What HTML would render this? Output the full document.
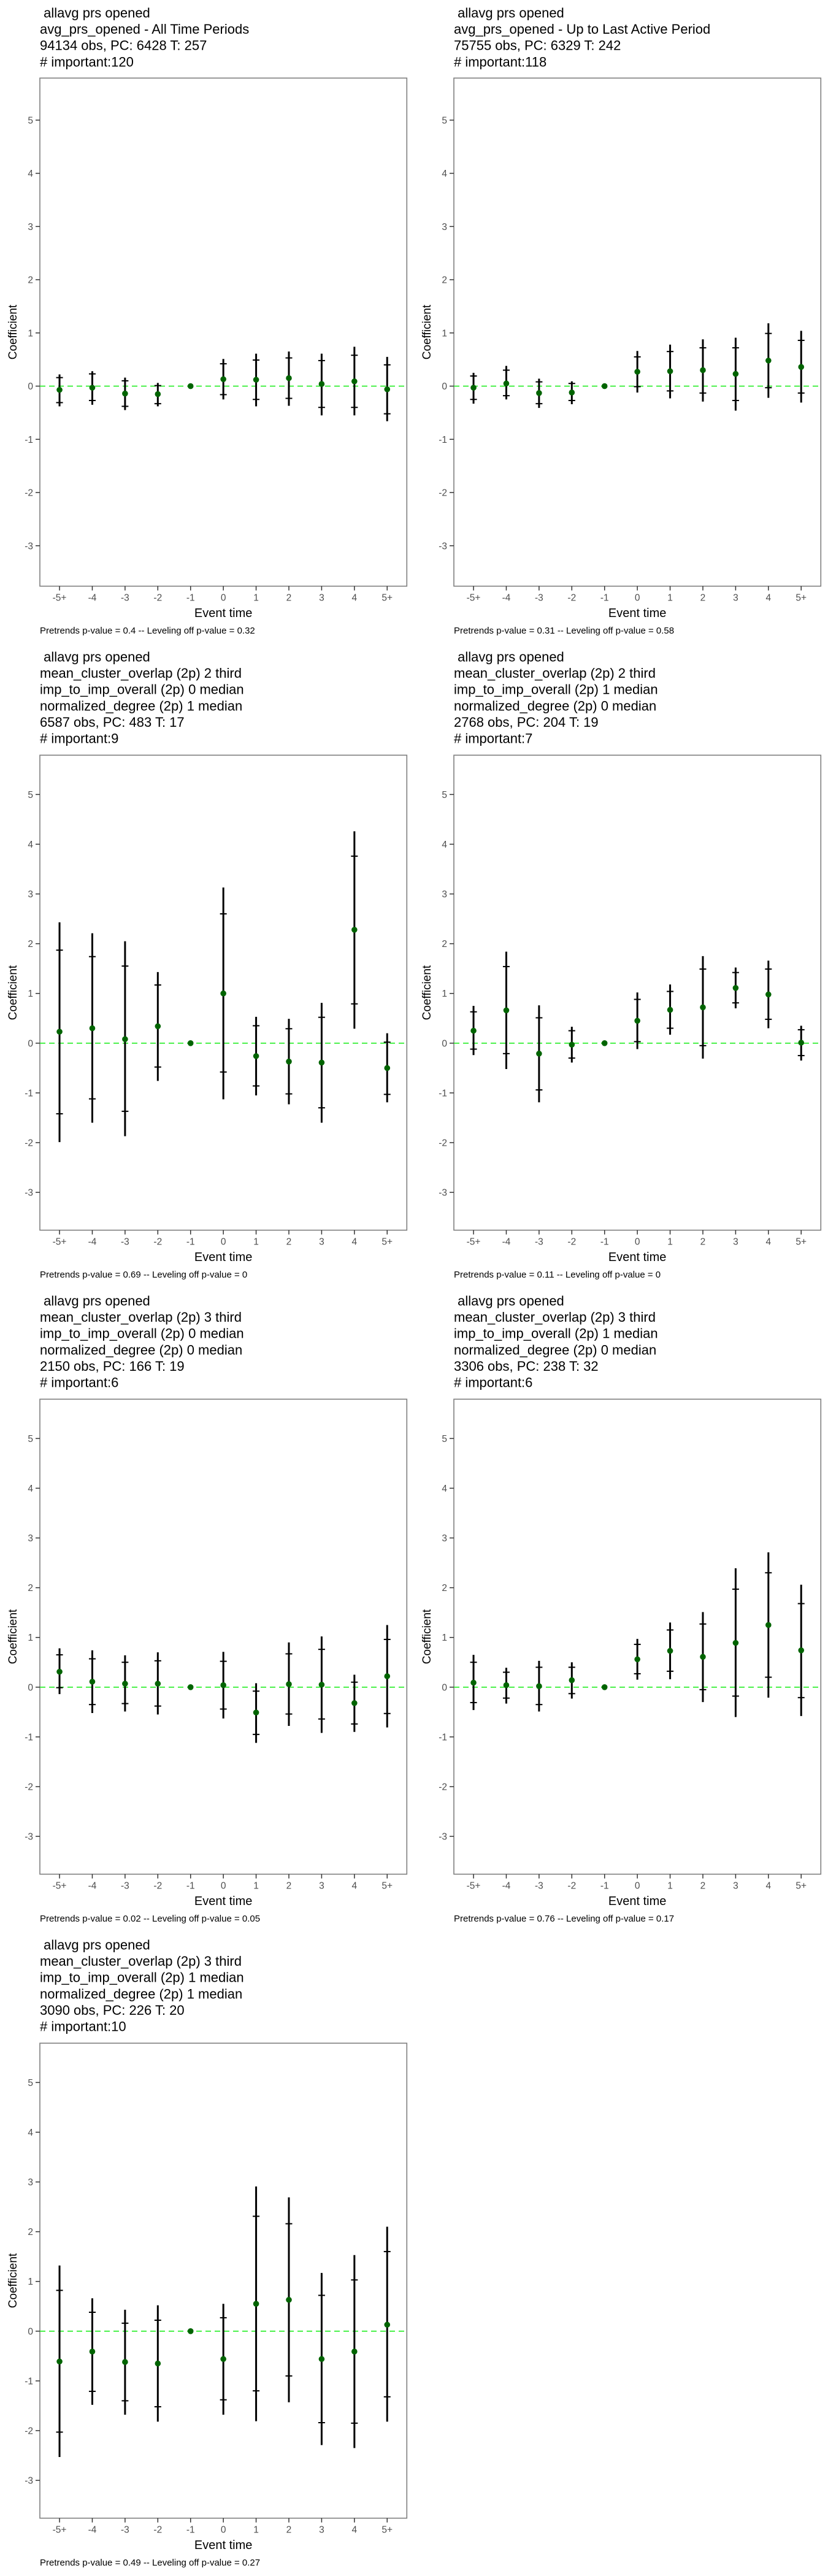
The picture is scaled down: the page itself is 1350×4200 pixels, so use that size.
<!DOCTYPE html>
<html><head><meta charset="utf-8">
<style>
html,body{margin:0;padding:0;background:#fff;}
svg{display:block;font-family:"Liberation Sans",Arial,sans-serif;}
.ttl{white-space:pre;}
</style></head>
<body>
<svg id="chart" width="1350" height="4200" viewBox="0 0 1350 4200" xmlns="http://www.w3.org/2000/svg"></svg>
<script>
const categories = ["-5+","-4","-3","-2","-1","0","1","2","3","4","5+"];
const yTicks = [-3,-2,-1,0,1,2,3,4,5];
const yMin = -3.76, yMax = 5.79;

const p1Titles = [" allavg prs opened","avg_prs_opened - All Time Periods","94134 obs, PC: 6428 T: 257","# important:120"];
const p1Coef = [-0.07,-0.03,-0.14,-0.15,0,0.13,0.12,0.15,0.04,0.09,-0.06];
const p1Hi95 = [0.22,0.28,0.16,0.06,null,0.51,0.61,0.65,0.61,0.74,0.55];
const p1Hi90 = [0.16,0.23,0.10,0.01,null,0.42,0.49,0.53,0.48,0.58,0.40];
const p1Lo90 = [-0.31,-0.27,-0.38,-0.33,null,-0.16,-0.25,-0.23,-0.40,-0.40,-0.52];
const p1Lo95 = [-0.38,-0.35,-0.45,-0.38,null,-0.25,-0.38,-0.37,-0.55,-0.55,-0.66];
const p1Note = "Pretrends p-value = 0.4 -- Leveling off p-value = 0.32";

const p2Titles = [" allavg prs opened","avg_prs_opened - Up to Last Active Period","75755 obs, PC: 6329 T: 242","# important:118"];
const p2Coef = [-0.03,0.05,-0.13,-0.12,0,0.27,0.28,0.30,0.23,0.48,0.36];
const p2Hi95 = [0.25,0.38,0.14,0.09,null,0.66,0.78,0.88,0.91,1.18,1.04];
const p2Hi90 = [0.19,0.30,0.08,0.05,null,0.55,0.65,0.72,0.72,0.99,0.86];
const p2Lo90 = [-0.25,-0.18,-0.33,-0.27,null,-0.01,-0.09,-0.13,-0.27,-0.03,-0.13];
const p2Lo95 = [-0.33,-0.25,-0.41,-0.34,null,-0.12,-0.23,-0.29,-0.46,-0.22,-0.31];
const p2Note = "Pretrends p-value = 0.31 -- Leveling off p-value = 0.58";

const p3Titles = [" allavg prs opened","mean_cluster_overlap (2p) 2 third","imp_to_imp_overall (2p) 0 median","normalized_degree (2p) 1 median","6587 obs, PC: 483 T: 17","# important:9"];
const p3Coef = [0.23,0.30,0.08,0.34,0,1.00,-0.26,-0.37,-0.39,2.28,-0.50];
const p3Hi95 = [2.43,2.21,2.05,1.43,null,3.13,0.53,0.49,0.81,4.26,0.20];
const p3Hi90 = [1.87,1.74,1.55,1.17,null,2.60,0.35,0.29,0.52,3.76,0.02];
const p3Lo90 = [-1.42,-1.12,-1.37,-0.48,null,-0.58,-0.86,-1.02,-1.30,0.79,-1.03];
const p3Lo95 = [-1.99,-1.60,-1.87,-0.76,null,-1.13,-1.05,-1.23,-1.60,0.29,-1.19];
const p3Note = "Pretrends p-value = 0.69 -- Leveling off p-value = 0";

const p4Titles = [" allavg prs opened","mean_cluster_overlap (2p) 2 third","imp_to_imp_overall (2p) 1 median","normalized_degree (2p) 0 median","2768 obs, PC: 204 T: 19","# important:7"];
const p4Coef = [0.25,0.66,-0.21,-0.03,0,0.45,0.67,0.72,1.11,0.98,0.01];
const p4Hi95 = [0.75,1.84,0.76,0.33,null,1.02,1.18,1.75,1.52,1.66,0.35];
const p4Hi90 = [0.63,1.54,0.51,0.25,null,0.88,1.04,1.49,1.42,1.49,0.27];
const p4Lo90 = [-0.12,-0.21,-0.94,-0.30,null,0.03,0.30,-0.05,0.81,0.48,-0.25];
const p4Lo95 = [-0.24,-0.52,-1.19,-0.39,null,-0.12,0.17,-0.31,0.70,0.30,-0.35];
const p4Note = "Pretrends p-value = 0.11 -- Leveling off p-value = 0";

const p5Titles = [" allavg prs opened","mean_cluster_overlap (2p) 3 third","imp_to_imp_overall (2p) 0 median","normalized_degree (2p) 0 median","2150 obs, PC: 166 T: 19","# important:6"];
const p5Coef = [0.31,0.11,0.07,0.07,0,0.04,-0.51,0.06,0.05,-0.32,0.22];
const p5Hi95 = [0.78,0.74,0.64,0.70,null,0.71,0.08,0.90,1.02,0.25,1.25];
const p5Hi90 = [0.65,0.57,0.50,0.53,null,0.52,-0.08,0.67,0.76,0.10,0.96];
const p5Lo90 = [-0.01,-0.35,-0.33,-0.38,null,-0.44,-0.95,-0.54,-0.64,-0.74,-0.53];
const p5Lo95 = [-0.14,-0.52,-0.49,-0.55,null,-0.63,-1.12,-0.78,-0.92,-0.90,-0.81];
const p5Note = "Pretrends p-value = 0.02 -- Leveling off p-value = 0.05";

const p6Titles = [" allavg prs opened","mean_cluster_overlap (2p) 3 third","imp_to_imp_overall (2p) 1 median","normalized_degree (2p) 0 median","3306 obs, PC: 238 T: 32","# important:6"];
const p6Coef = [0.09,0.04,0.02,0.14,0,0.56,0.73,0.61,0.89,1.25,0.74];
const p6Hi95 = [0.65,0.39,0.53,0.50,null,0.97,1.30,1.51,2.39,2.71,2.06];
const p6Hi90 = [0.50,0.30,0.40,0.40,null,0.86,1.15,1.27,1.97,2.30,1.68];
const p6Lo90 = [-0.31,-0.22,-0.35,-0.13,null,0.27,0.32,-0.05,-0.18,0.20,-0.21];
const p6Lo95 = [-0.46,-0.33,-0.49,-0.23,null,0.15,0.16,-0.30,-0.60,-0.21,-0.58];
const p6Note = "Pretrends p-value = 0.76 -- Leveling off p-value = 0.17";

const p7Titles = [" allavg prs opened","mean_cluster_overlap (2p) 3 third","imp_to_imp_overall (2p) 1 median","normalized_degree (2p) 1 median","3090 obs, PC: 226 T: 20","# important:10"];
const p7Coef = [-0.61,-0.41,-0.62,-0.65,0,-0.56,0.55,0.63,-0.56,-0.41,0.13];
const p7Hi95 = [1.32,0.66,0.43,0.52,null,0.55,2.91,2.69,1.17,1.53,2.10];
const p7Hi90 = [0.82,0.38,0.16,0.22,null,0.27,2.31,2.16,0.72,1.03,1.60];
const p7Lo90 = [-2.03,-1.21,-1.40,-1.52,null,-1.38,-1.20,-0.90,-1.84,-1.85,-1.32];
const p7Lo95 = [-2.53,-1.48,-1.68,-1.82,null,-1.68,-1.81,-1.43,-2.29,-2.35,-1.82];
const p7Note = "Pretrends p-value = 0.49 -- Leveling off p-value = 0.27";

const panels = [
  {col:0,row:0,titles:p1Titles,coef:p1Coef,hi95:p1Hi95,hi90:p1Hi90,lo90:p1Lo90,lo95:p1Lo95,note:p1Note},
  {col:1,row:0,titles:p2Titles,coef:p2Coef,hi95:p2Hi95,hi90:p2Hi90,lo90:p2Lo90,lo95:p2Lo95,note:p2Note},
  {col:0,row:1,titles:p3Titles,coef:p3Coef,hi95:p3Hi95,hi90:p3Hi90,lo90:p3Lo90,lo95:p3Lo95,note:p3Note},
  {col:1,row:1,titles:p4Titles,coef:p4Coef,hi95:p4Hi95,hi90:p4Hi90,lo90:p4Lo90,lo95:p4Lo95,note:p4Note},
  {col:0,row:2,titles:p5Titles,coef:p5Coef,hi95:p5Hi95,hi90:p5Hi90,lo90:p5Lo90,lo95:p5Lo95,note:p5Note},
  {col:1,row:2,titles:p6Titles,coef:p6Coef,hi95:p6Hi95,hi90:p6Hi90,lo90:p6Lo90,lo95:p6Lo95,note:p6Note},
  {col:0,row:3,titles:p7Titles,coef:p7Coef,hi95:p7Hi95,hi90:p7Hi90,lo90:p7Lo90,lo95:p7Lo95,note:p7Note}
];

const NS = "http://www.w3.org/2000/svg";
const svg = document.getElementById("chart");
function mk(tag, attrs, parent, text){
  const e = document.createElementNS(NS, tag);
  for (const k in attrs) e.setAttribute(k, attrs[k]);
  if (text !== undefined) e.textContent = text;
  parent.appendChild(e);
  return e;
}

panels.forEach(function(p, pi){
  const ox = p.col*675, oy = p.row*1050;
  const g = mk("g", {}, svg);
  
  
  const left = ox+65, right = ox+663.3;
  const top = oy + (p.titles.length === 4 ? 127.3 : 181.3);
  const bottom = oy + 955.7;
  const step = (right-left)/(categories.length - 1 + 1.2);
  const xScale = function(i){ return left + step*(0.6 + i); };
  const yScale = function(v){ return bottom - (v - yMin)/(yMax - yMin)*(bottom - top); };

  const tt = mk("text", {"font-size":"22","fill":"#000","class":"ttl"}, g);
  
  
  tt.setAttributeNS("http://www.w3.org/XML/1998/namespace", "xml:space", "preserve");
  p.titles.forEach(function(line, li){
    mk("tspan", {x:left, y:oy+28.5+li*26.6}, tt, line);
  });

  const box = mk("rect", {x:left, y:top, width:right-left, height:bottom-top, fill:"#fff", stroke:"#7f7f7f", "stroke-width":"1.6"}, g);
  
  

  yTicks.forEach(function(t){
    const y = yScale(t);
    const tk = mk("line", {x1:left-7, x2:left, y1:y, y2:y, stroke:"#333", "stroke-width":"1.5"}, g);
    
    
    const lb = mk("text", {x:left-11, y:y+5.5, "text-anchor":"end", "font-size":"15.5", fill:"#4d4d4d"}, g, String(t));
    
    
  });
  categories.forEach(function(c, i){
    const x = xScale(i);
    const tk = mk("line", {x1:x, x2:x, y1:bottom, y2:bottom+7, stroke:"#333", "stroke-width":"1.5"}, g);
    
    
    const lb = mk("text", {x:x, y:oy+979.5, "text-anchor":"middle", "font-size":"15.5", fill:"#4d4d4d"}, g, c);
    
    
  });

  const zl = mk("line", {x1:left, x2:right, y1:yScale(0), y2:yScale(0), stroke:"#22ee22", "stroke-width":"1.6", "stroke-dasharray":"9,6"}, g);
  
  

  categories.forEach(function(c, i){
    const x = xScale(i);
    if (p.hi95[i] !== null) {
      const v = mk("line", {x1:x, x2:x, y1:yScale(p.hi95[i]), y2:yScale(p.lo95[i]), stroke:"#000", "stroke-width":"3"}, g);
      
      
      [p.hi90[i], p.lo90[i]].forEach(function(val){
        const h = mk("line", {x1:x-5.5, x2:x+5.5, y1:yScale(val), y2:yScale(val), stroke:"#000", "stroke-width":"2"}, g);
        
        
      });
    }
    const pt = mk("circle", {cx:x, cy:yScale(p.coef[i]), r:"4.8", fill:"#006400"}, g);
    
    
  });

  const xt = mk("text", {x:(left+right)/2, y:oy+1006, "text-anchor":"middle", "font-size":"20", fill:"#000"}, g, "Event time");
  
  
  const cy = (top+bottom)/2;
  const yt = mk("text", {x:ox+27, y:cy, "text-anchor":"middle", "font-size":"19", fill:"#000", transform:"rotate(-90 "+(ox+27)+" "+cy+")"}, g, "Coefficient");
  
  
  const nt = mk("text", {x:left, y:oy+1033, "font-size":"15", fill:"#000"}, g, p.note);
  
  
});
</script>
</body></html>
